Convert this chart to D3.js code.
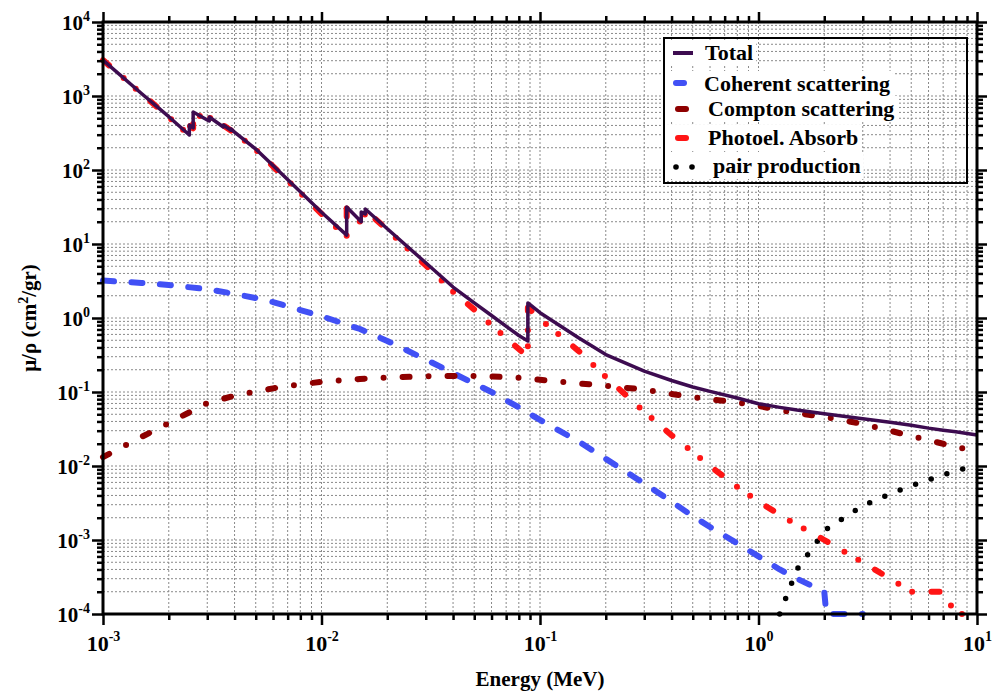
<!DOCTYPE html>
<html>
<head>
<meta charset="utf-8">
<script src="https://cdn.jsdelivr.net/npm/d3@7"></script>
<style>
  body { margin: 0; background: #fff; }
  svg text { font-family: "Liberation Serif", "Times New Roman", serif; font-weight: bold; fill: #000; }
</style>
</head>
<body>
<div id="chart"></div>
<script>
// energies in MeV, edges appear twice (before / after the jump)
const edgeEnergy = [0.001, 0.0015, 0.002, 0.002484, 0.002484, 0.002586, 0.002586, 0.003, 0.003066, 0.003066,
  0.003554, 0.003554, 0.003851, 0.003851, 0.004, 0.005, 0.006, 0.008, 0.01, 0.01304, 0.01304, 0.0152, 0.0152,
  0.01586, 0.01586, 0.02, 0.03, 0.04, 0.05, 0.06, 0.08, 0.088, 0.088, 0.1, 0.15, 0.2, 0.3, 0.4, 0.5, 0.6, 0.8,
  1, 1.25, 1.5, 2, 3, 4, 5, 6, 7, 8, 9, 10]
const total = [3060, 1080, 525, 297, 405, 370, 608, 475, 459, 520,
  381, 405, 345, 360, 325, 192, 115, 50.7, 26.8, 13.2, 31.6, 20.0, 27.0,
  25.5, 29.7, 16.1, 5.57, 2.62, 1.6, 1.08, 0.58, 0.489, 1.6, 1.18, 0.54, 0.321, 0.192, 0.143, 0.117, 0.102, 0.083,
  0.0695, 0.062, 0.057, 0.051, 0.0435, 0.039, 0.0355, 0.0325, 0.0305, 0.029, 0.0275, 0.0262]
const photoel = [3055, 1075, 520, 293, 400, 366, 602, 470, 454, 515,
  377, 401, 341, 356, 321, 189, 112, 49, 25.6, 12.4, 30.8, 19.3, 26.3,
  24.8, 29.0, 15.5, 5.15, 2.27, 1.3, 0.8, 0.38, 0.30, 1.38, 0.97, 0.36, 0.16, 0.054, 0.026, 0.0155, 0.010, 0.0052,
  0.0033, 0.0022, 0.0016, 0.0010, 0.0005, 0.0003, 0.0002, 0.0002, 0.0002, 0.0001, 0.0001, 0.0001]

const smoothEnergy = [0.001, 0.0015, 0.002, 0.003, 0.004, 0.005, 0.006, 0.008, 0.01, 0.015, 0.02, 0.03, 0.04, 0.05,
  0.06, 0.08, 0.1, 0.15, 0.2, 0.3, 0.4, 0.5, 0.6, 0.8, 1, 1.25, 1.5, 2, 2.044, 3, 4, 5, 6, 7, 8, 9, 10]
const coherent = [3.2, 2.98, 2.79, 2.45, 2.12, 1.86, 1.64, 1.28, 1.06, 0.71, 0.49, 0.275, 0.18, 0.13,
  0.10, 0.062, 0.042, 0.0215, 0.0125, 0.0058, 0.0033, 0.0021, 0.0015, 0.0009, 0.0006, 0.0004, 0.0003, 0.0002, 0.0001, 0.0001, 0, 0, 0, 0, 0, 0, 0]
const compton = [0.0132, 0.0247, 0.038, 0.071, 0.089, 0.102, 0.112, 0.127, 0.137, 0.150, 0.157, 0.163, 0.165, 0.164,
  0.162, 0.156, 0.146, 0.131, 0.121, 0.108, 0.094, 0.0855, 0.0796, 0.0725, 0.0647, 0.057, 0.0519, 0.046, 0.0455, 0.0371, 0.030, 0.0254, 0.0223, 0.0200, 0.0179, 0.017, 0.016]

const pairEnergy = [1.022, 1.25, 1.5, 2, 2.044, 3, 4, 5, 6, 7, 8, 9, 10]
const pair = [0, 0.0001, 0.0004, 0.0013, 0.0014, 0.0029, 0.0042, 0.0054, 0.0065, 0.0076, 0.0086, 0.0094, 0.0103]

const xMajor = [1e-3, 1e-2, 1e-1, 1, 10]
const yMajor = [1e-4, 1e-3, 1e-2, 1e-1, 1, 10, 100, 1000, 10000]

const purple = '#3d0c50'
const blue = '#4150f5'
const darkRed = '#8e0000'
const red = '#ff1515'

const width = 992
const height = 693
const mLeft = 103, mRight = 977, mTop = 22, mBottom = 614

const svg = d3.select('#chart').append('svg').attr('width', width).attr('height', height)

const x = d3.scaleLog().domain([1e-3, 10]).range([mLeft, mRight])
const y = d3.scaleLog().domain([1e-4, 1e4]).range([mBottom, mTop])

const isMajor = (list, d) => list.some(m => Math.abs(m - d) / m < 1e-6)
const xAll = x.ticks()
const yAll = y.ticks()
const xMinor = xAll.filter(d => !isMajor(xMajor, d))
const yMinor = yAll.filter(d => !isMajor(yMajor, d))

// grid
const grid = svg.append('g').attr('stroke', '#8a8a8a').attr('stroke-width', 1).attr('stroke-dasharray', '2,2')
grid.selectAll('line.v').data(xAll).enter().append('line')
  .attr('x1', d => x(d)).attr('x2', d => x(d)).attr('y1', mTop).attr('y2', mBottom)
grid.selectAll('line.h').data(yAll).enter().append('line')
  .attr('y1', d => y(d)).attr('y2', d => y(d)).attr('x1', mLeft).attr('x2', mRight)

const legendItems = [
  { label: 'Total', tx: 705, ty: 60 },
  { label: 'Coherent scattering', tx: 704, ty: 91 },
  { label: 'Compton scattering', tx: 708, ty: 116 },
  { label: 'Photoel. Absorb', tx: 708, ty: 145 },
  { label: 'pair production', tx: 713, ty: 173 }
]

// curves
const line = d3.line()
  .defined(d => d[1] > 0)
  .x(d => x(d[0]))
  .y(d => y(d[1]))

function addCurve(xs, ys, color, w, dash, cap) {
  svg.append('path')
    .datum(xs.map((e, i) => [e, ys[i]]))
    .attr('d', line)
    .attr('fill', 'none')
    .attr('stroke', color)
    .attr('stroke-width', w)
    .attr('stroke-dasharray', dash)
    .attr('stroke-linecap', cap)
    .attr('stroke-linejoin', 'round')
}

addCurve(smoothEnergy, coherent, blue, 6, '11,17.5', 'round')
addCurve(smoothEnergy, compton, darkRed, 6, '7,19,0,19', 'round')
addCurve(pairEnergy, pair, '#000', 5.5, '0,16.5', 'round')
addCurve(edgeEnergy, photoel, red, 6, '8,19.4,0,16,0,19.4', 'round')
addCurve(edgeEnergy, total, purple, 3.5, null, 'butt')

// axes
function styleAxis(g) {
  g.select('.domain').remove()
  g.selectAll('line').attr('stroke', '#000').attr('stroke-width', 2.5)
}
svg.append('g').attr('transform', `translate(${mLeft},0)`)
  .call(d3.axisLeft(y).tickValues(yMinor).tickSize(6).tickFormat('')).call(styleAxis)
svg.append('g').attr('transform', `translate(${mRight},0)`)
  .call(d3.axisRight(y).tickValues(yMinor).tickSize(6).tickFormat('')).call(styleAxis)
svg.append('g').attr('transform', `translate(${mRight},0)`)
  .call(d3.axisRight(y).tickValues(yMajor).tickSize(10).tickFormat('')).call(styleAxis)
svg.append('g').attr('transform', `translate(0,${mBottom})`)
  .call(d3.axisBottom(x).tickValues(xMinor).tickSize(6).tickFormat('')).call(styleAxis)
svg.append('g').attr('transform', `translate(0,${mTop})`)
  .call(d3.axisTop(x).tickValues(xMinor).tickSize(6).tickFormat('')).call(styleAxis)
svg.append('g').attr('transform', `translate(0,${mTop})`)
  .call(d3.axisTop(x).tickValues(xMajor).tickSize(10).tickFormat('')).call(styleAxis)

const yAxis = svg.append('g').attr('transform', `translate(${mLeft},0)`)
  .call(d3.axisLeft(y).tickValues(yMajor).tickSize(11).tickFormat(''))
  .call(styleAxis)
yAxis.selectAll('.tick text').each(function (d) {
  const t = d3.select(this).attr('dy', null).attr('y', 7).attr('x', -13).attr('text-anchor', 'end')
  t.append('tspan').attr('font-size', 21).text('10')
  t.append('tspan').attr('font-size', 14).attr('dy', -9).text(Math.round(Math.log10(d)))
})

const xAxis = svg.append('g').attr('transform', `translate(0,${mBottom})`)
  .call(d3.axisBottom(x).tickValues(xMajor).tickSize(11).tickFormat(''))
  .call(styleAxis)
xAxis.selectAll('.tick text').each(function (d) {
  const t = d3.select(this).attr('dy', null).attr('y', 37).attr('x', 0).attr('text-anchor', 'middle')
  t.append('tspan').attr('font-size', 22).text('10')
  t.append('tspan').attr('font-size', 14).attr('dy', -10).text(Math.round(Math.log10(d)))
})

// frame
svg.append('rect')
  .attr('x', mLeft).attr('y', mTop).attr('width', mRight - mLeft).attr('height', mBottom - mTop)
  .attr('fill', 'none').attr('stroke', '#000').attr('stroke-width', 3)

// axis titles
svg.append('text').attr('x', (mLeft + mRight) / 2).attr('y', 686).attr('text-anchor', 'middle')
  .attr('font-size', 21).text('Energy (MeV)')

const yTitle = svg.append('text').attr('transform', 'translate(36,318) rotate(-90)')
  .attr('text-anchor', 'middle').attr('font-size', 21)
yTitle.append('tspan').text('μ/ρ (cm')
yTitle.append('tspan').attr('font-size', 14).attr('dy', -8).text('2')
yTitle.append('tspan').attr('dy', 8).text('/gr)')

// legend
const legend = svg.append('g')
legendItems.forEach(item => {
  const txt = legend.append('text').attr('x', item.tx).attr('y', item.ty).attr('font-size', 22).text(item.label)
  const w = txt.node().getComputedTextLength()
  legend.insert('rect', 'text')
    .attr('x', 667).attr('y', item.ty - 20).attr('width', item.tx + w + 3 - 667).attr('height', 26)
    .attr('fill', '#fff')
})
legend.append('line').attr('x1', 673).attr('x2', 693).attr('y1', 53).attr('y2', 53)
  .attr('stroke', purple).attr('stroke-width', 4)
legend.append('line').attr('x1', 676).attr('x2', 684).attr('y1', 83).attr('y2', 83)
  .attr('stroke', blue).attr('stroke-width', 6).attr('stroke-linecap', 'round')
legend.append('line').attr('x1', 678).attr('x2', 686).attr('y1', 109).attr('y2', 109)
  .attr('stroke', darkRed).attr('stroke-width', 6).attr('stroke-linecap', 'round')
legend.append('line').attr('x1', 678).attr('x2', 686).attr('y1', 138).attr('y2', 138)
  .attr('stroke', red).attr('stroke-width', 6).attr('stroke-linecap', 'round')
legend.selectAll('circle').data([676, 692]).enter().append('circle')
  .attr('cx', d => d).attr('cy', 167).attr('r', 2.8).attr('fill', '#000')
legend.append('rect').attr('x', 664).attr('y', 38).attr('width', 303).attr('height', 145)
  .attr('fill', 'none').attr('stroke', '#000').attr('stroke-width', 2)
</script>
</body>
</html>
